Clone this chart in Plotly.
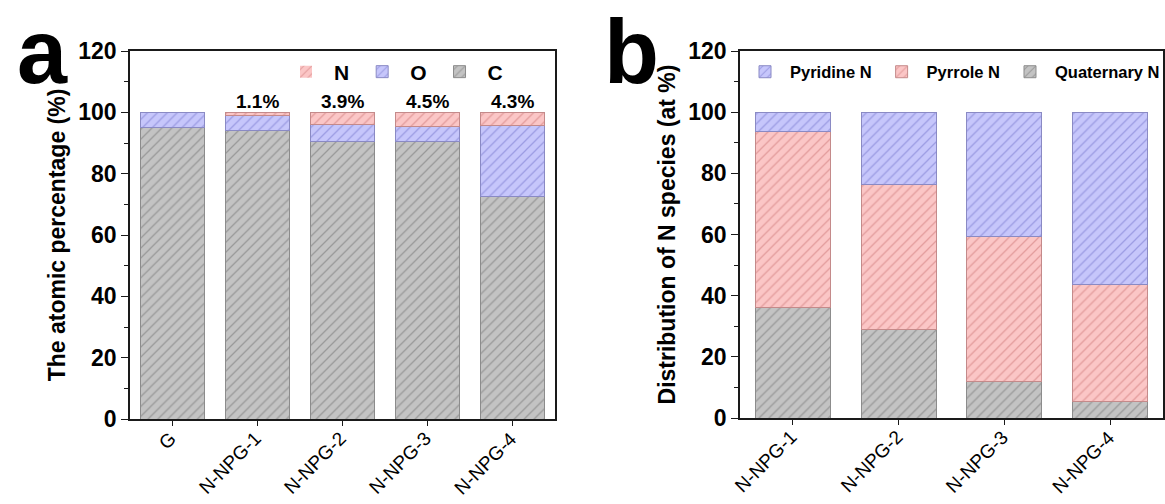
import plotly.graph_objects as go

# ---- data -----------------------------------------------------------------
samples_a = ["G", "N-NPG-1", "N-NPG-2", "N-NPG-3", "N-NPG-4"]
carbon = [95.0, 94.0, 90.5, 90.5, 72.4]
oxygen = [5.0, 4.9, 5.6, 5.0, 23.3]
nitrogen = [0.0, 1.1, 3.9, 4.5, 4.3]

samples_b = ["N-NPG-1", "N-NPG-2", "N-NPG-3", "N-NPG-4"]
quaternary_n = [36.0, 29.0, 12.0, 5.5]
pyrrole_n = [57.8, 47.5, 47.5, 38.0]
pyridine_n = [6.2, 23.5, 40.5, 56.5]

y_ticks = [0, 20, 40, 60, 80, 100, 120]

# ---- styles ---------------------------------------------------------------
FONT = "Liberation Sans, Arial, sans-serif"
GRAY = dict(fill="#c3c3c3", hatch="#999999", edge="#8c8c8c")
PINK = dict(fill="#fbc6c6", hatch="#e39c9c", edge="#c48a8a")
BLUE = dict(fill="#c6c6fb", hatch="#9c9ce3", edge="#8a8ac4")


def bar(name, x, y, style, xaxis, yaxis, width, legend):
    return go.Bar(
        name=name, x=x, y=y, width=width,
        xaxis=xaxis, yaxis=yaxis, legend=legend,
        marker=dict(
            color=style["fill"],
            # no outline on empty segments
            line=dict(color=style["edge"], width=[1 if v > 0 else 0 for v in y]),
            pattern=dict(shape="/", fgcolor=style["hatch"], bgcolor=style["fill"],
                         size=7, solidity=0.18, fillmode="replace"),
        ),
        hoverinfo="skip",
    )


fig = go.Figure()
# panel a: elemental composition (C at the bottom, N on top)
fig.add_trace(bar("C", samples_a, carbon, GRAY, "x", "y", 0.75, "legend"))
fig.add_trace(bar("O", samples_a, oxygen, BLUE, "x", "y", 0.75, "legend"))
fig.add_trace(bar("N", samples_a, nitrogen, PINK, "x", "y", 0.75, "legend"))
# panel b: nitrogen species
fig.add_trace(bar("Quaternary N", samples_b, quaternary_n, GRAY, "x2", "y2", 0.71, "legend2"))
fig.add_trace(bar("Pyrrole N", samples_b, pyrrole_n, PINK, "x2", "y2", 0.71, "legend2"))
fig.add_trace(bar("Pyridine N", samples_b, pyridine_n, BLUE, "x2", "y2", 0.71, "legend2"))

W, H = 1165, 504
A_LEFT, A_RIGHT = 130, 555
B_LEFT, B_RIGHT = 740, 1163
axis_common = dict(
    showline=True, linecolor="#1a1a1a", linewidth=1.5, mirror=True,
    showgrid=False, zeroline=False, ticks="outside", tickcolor="#1a1a1a",
    automargin=False,
)
yaxis_common = dict(
    axis_common, range=[0, 120], tickvals=y_ticks, ticklen=7, tickwidth=1.3,
    tickfont=dict(family=FONT, size=23, color="black", weight="bold"),
    minor=dict(ticks="outside", dtick=10, tick0=0, ticklen=4, tickcolor="#1a1a1a"),
)
xaxis_common = dict(
    axis_common, type="category", ticklen=5, tickwidth=1.3, showticklabels=False,
)
TITLE_FONT = dict(family=FONT, size=23, color="black", weight="bold")

fig.update_layout(
    width=W, height=H,
    margin=dict(l=0, r=0, t=0, b=0, autoexpand=False),
    paper_bgcolor="white", plot_bgcolor="white",
    barmode="stack", bargap=0.25,
    xaxis=dict(xaxis_common, domain=[A_LEFT / W, A_RIGHT / W], range=[-0.5, 4.5]),
    yaxis=dict(yaxis_common, domain=[85 / H, 453 / H], anchor="x",
               title=dict(text="The atomic percentage (%)", standoff=6, font=TITLE_FONT)),
    xaxis2=dict(xaxis_common, domain=[B_LEFT / W, B_RIGHT / W], range=[-0.5, 3.5],
                anchor="y2"),
    yaxis2=dict(yaxis_common, domain=[86 / H, 453 / H], anchor="x2",
                title=dict(text="Distribution of N species (at %)", standoff=6,
                           font=TITLE_FONT)),
    legend=dict(
        orientation="h", traceorder="reversed",
        x=278 / W, y=1 - 72 / H, xanchor="left", yanchor="middle",
        bgcolor="rgba(0,0,0,0)", itemwidth=46,
        font=dict(family=FONT, size=21, color="black", weight="bold"),
    ),
    legend2=dict(
        orientation="h", traceorder="reversed",
        x=740 / W, y=1 - 72 / H, xanchor="left", yanchor="middle",
        bgcolor="rgba(0,0,0,0)", itemwidth=40,
        font=dict(family=FONT, size=16.5, color="black", weight="bold"),
    ),
    showlegend=True,
)

# rotated category labels: each label's upper-right end sits just right of its tick.
LABEL_SIZE = 19
CHAR_EM = {"N": 0.722, "-": 0.333, "P": 0.667, "G": 0.778}


def label_shift(name, px_per_cat):
    """Offset (in category units) of a -45 deg label's centre from its tick."""
    text_w = sum(CHAR_EM.get(ch, 0.556) for ch in name) * LABEL_SIZE
    half_side = (text_w + 24) / (2 * 2 ** 0.5)
    return (9 - half_side) / px_per_cat


for xref, yref, names, span in [("x", "y", samples_a, A_RIGHT - A_LEFT),
                                ("x2", "y2", samples_b, B_RIGHT - B_LEFT)]:
    px_per_cat = span / len(names)
    for i, name in enumerate(names):
        fig.add_annotation(
            x=i + label_shift(name, px_per_cat), y=0, xref=xref, yref=yref,
            text=name, showarrow=False, textangle=-45,
            xanchor="center", yanchor="top", yshift=-6,
            font=dict(family="Liberation Sans", size=LABEL_SIZE, color="black"),
        )

# nitrogen content written above each doped sample
for name, c, o, n in zip(samples_a, carbon, oxygen, nitrogen):
    if n > 0:
        fig.add_annotation(
            x=name, y=c + o + n, xref="x", yref="y", yanchor="bottom",
            text=f"{n:.1f}%", showarrow=False, yshift=-2,
            font=dict(family=FONT, size=19, color="black", weight="bold"),
        )

# panel letters
for letter, px in [("a", 42), ("b", 632)]:
    fig.add_annotation(
        x=px / W, y=1, xref="paper", yref="paper",
        xanchor="center", yanchor="top", text=letter, showarrow=False,
        font=dict(family=FONT, size=90, color="black", weight="bold"),
    )

fig.write_html("out.html")
